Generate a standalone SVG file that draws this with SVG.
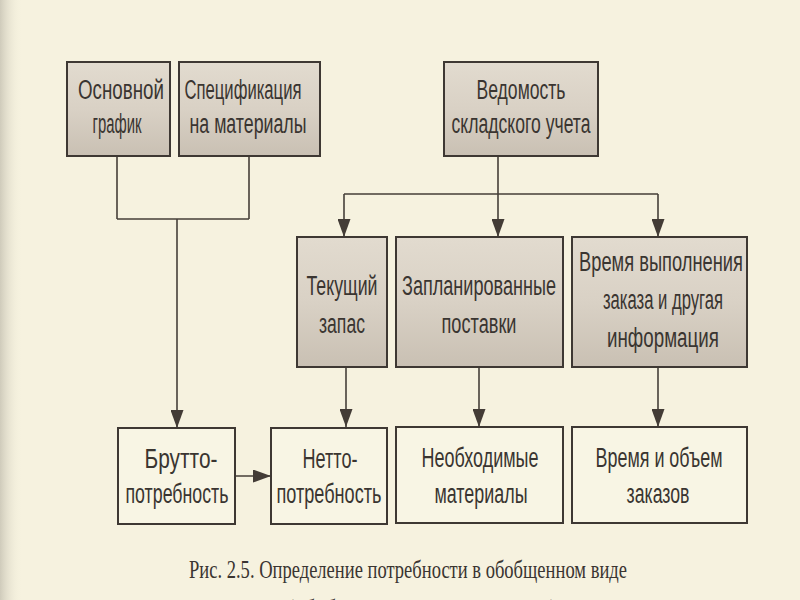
<svg xmlns="http://www.w3.org/2000/svg" width="800" height="600" viewBox="0 0 800 600">
<defs>
<linearGradient id="shade" x1="0" y1="0" x2="0" y2="1">
<stop offset="0" stop-color="#e2dbcf"/>
<stop offset="0.5" stop-color="#d9d1c5"/>
<stop offset="1" stop-color="#c9c0b3"/>
</linearGradient>
<linearGradient id="edge" x1="0" y1="0" x2="1" y2="0">
<stop offset="0" stop-color="#cfcbbb"/>
<stop offset="1" stop-color="#f6f2df" stop-opacity="0"/>
</linearGradient>
<marker id="arr" markerUnits="userSpaceOnUse" viewBox="0 0 18 13" refX="18" refY="6.5" markerWidth="18" markerHeight="13" orient="auto">
<path d="M0,0 L18,6.5 L0,13 z" fill="#433c36"/>
</marker>
</defs>
<style>
.bg{fill:#f6f2df}
.sh{fill:url(#shade);stroke:#3e3833;stroke-width:2}
.pl{fill:#f8f5e4;stroke:#3e3833;stroke-width:2}
.t{font-family:"Liberation Sans",Arial,sans-serif;font-size:27px;fill:#3a3531;text-anchor:middle}
.c{fill:none;stroke:#463f39;stroke-width:1.6}
.cap{font-family:"Liberation Serif","Times New Roman",serif;font-size:26px;fill:#3a3531;text-anchor:middle}
</style>
<rect class="bg" x="0" y="0" width="800" height="600"/>
<rect x="0" y="0" width="22" height="600" fill="url(#edge)"/>

<g id="connectors">
<path class="c" d="M117,156 V219 M249,156 V219 M117,219 H249"/>
<path class="c" d="M177,219 V428" marker-end="url(#arr)"/>
<path class="c" d="M498,156 V194 M344,194 H658"/>
<path class="c" d="M344,194 V237" marker-end="url(#arr)"/>
<path class="c" d="M498,194 V237" marker-end="url(#arr)"/>
<path class="c" d="M658,194 V237" marker-end="url(#arr)"/>
<path class="c" d="M346,367 V427" marker-end="url(#arr)"/>
<path class="c" d="M479,367 V427" marker-end="url(#arr)"/>
<path class="c" d="M658,367 V427" marker-end="url(#arr)"/>
<path class="c" d="M235,476 H271" marker-end="url(#arr)"/>
</g>

<g id="osnovnoy">
<rect class="sh" x="67" y="62" width="103" height="94"/>
<text class="t" x="121" y="99" textLength="86" lengthAdjust="spacingAndGlyphs">Основной</text>
<text class="t" x="117" y="133" textLength="49" lengthAdjust="spacingAndGlyphs">график</text>
</g>
<g id="specifikaciya">
<rect class="sh" x="179" y="62" width="141" height="94"/>
<text class="t" x="243" y="99" textLength="117" lengthAdjust="spacingAndGlyphs">Спецификация</text>
<text class="t" x="248" y="133" textLength="117" lengthAdjust="spacingAndGlyphs">на материалы</text>
</g>
<g id="vedomost">
<rect class="sh" x="444" y="62" width="154" height="94"/>
<text class="t" x="521" y="99" textLength="89" lengthAdjust="spacingAndGlyphs">Ведомость</text>
<text class="t" x="521" y="133" textLength="139" lengthAdjust="spacingAndGlyphs">складского учета</text>
</g>

<g id="tekushchiy">
<rect class="sh" x="297" y="237" width="90" height="130"/>
<text class="t" x="342" y="295" textLength="71" lengthAdjust="spacingAndGlyphs">Текущий</text>
<text class="t" x="342" y="333" textLength="46" lengthAdjust="spacingAndGlyphs">запас</text>
</g>
<g id="zaplanirovannye">
<rect class="sh" x="396" y="237" width="167" height="130"/>
<text class="t" x="479" y="295" textLength="154" lengthAdjust="spacingAndGlyphs">Запланированные</text>
<text class="t" x="479" y="333" textLength="75" lengthAdjust="spacingAndGlyphs">поставки</text>
</g>
<g id="vremya_vypolneniya">
<rect class="sh" x="572" y="237" width="175" height="130"/>
<text class="t" x="661" y="271" textLength="164" lengthAdjust="spacingAndGlyphs">Время выполнения</text>
<text class="t" x="663" y="309" textLength="120" lengthAdjust="spacingAndGlyphs">заказа и другая</text>
<text class="t" x="663" y="347" textLength="112" lengthAdjust="spacingAndGlyphs">информация</text>
</g>

<g id="brutto">
<rect class="pl" x="118" y="428" width="117" height="96"/>
<text class="t" x="181" y="468" textLength="73" lengthAdjust="spacingAndGlyphs">Брутто-</text>
<text class="t" x="177" y="503" textLength="103" lengthAdjust="spacingAndGlyphs">потребность</text>
</g>
<g id="netto">
<rect class="pl" x="271" y="428" width="116" height="96"/>
<text class="t" x="330" y="468" textLength="55" lengthAdjust="spacingAndGlyphs">Нетто-</text>
<text class="t" x="329" y="503" textLength="105" lengthAdjust="spacingAndGlyphs">потребность</text>
</g>
<g id="neobkhodimye">
<rect class="pl" x="396" y="427" width="167" height="96"/>
<text class="t" x="480" y="467" textLength="117" lengthAdjust="spacingAndGlyphs">Необходимые</text>
<text class="t" x="481" y="503" textLength="93" lengthAdjust="spacingAndGlyphs">материалы</text>
</g>
<g id="vremya_obem">
<rect class="pl" x="572" y="427" width="175" height="96"/>
<text class="t" x="659" y="467" textLength="127" lengthAdjust="spacingAndGlyphs">Время и объем</text>
<text class="t" x="658" y="503" textLength="63" lengthAdjust="spacingAndGlyphs">заказов</text>
</g>

<text class="cap" x="408" y="578" textLength="438" lengthAdjust="spacingAndGlyphs">Рис. 2.5. Определение потребности в обобщенном виде</text>
<text class="cap" x="422" y="617" textLength="270" lengthAdjust="spacingAndGlyphs">(обобщенная процедура MRP)</text>
</svg>
